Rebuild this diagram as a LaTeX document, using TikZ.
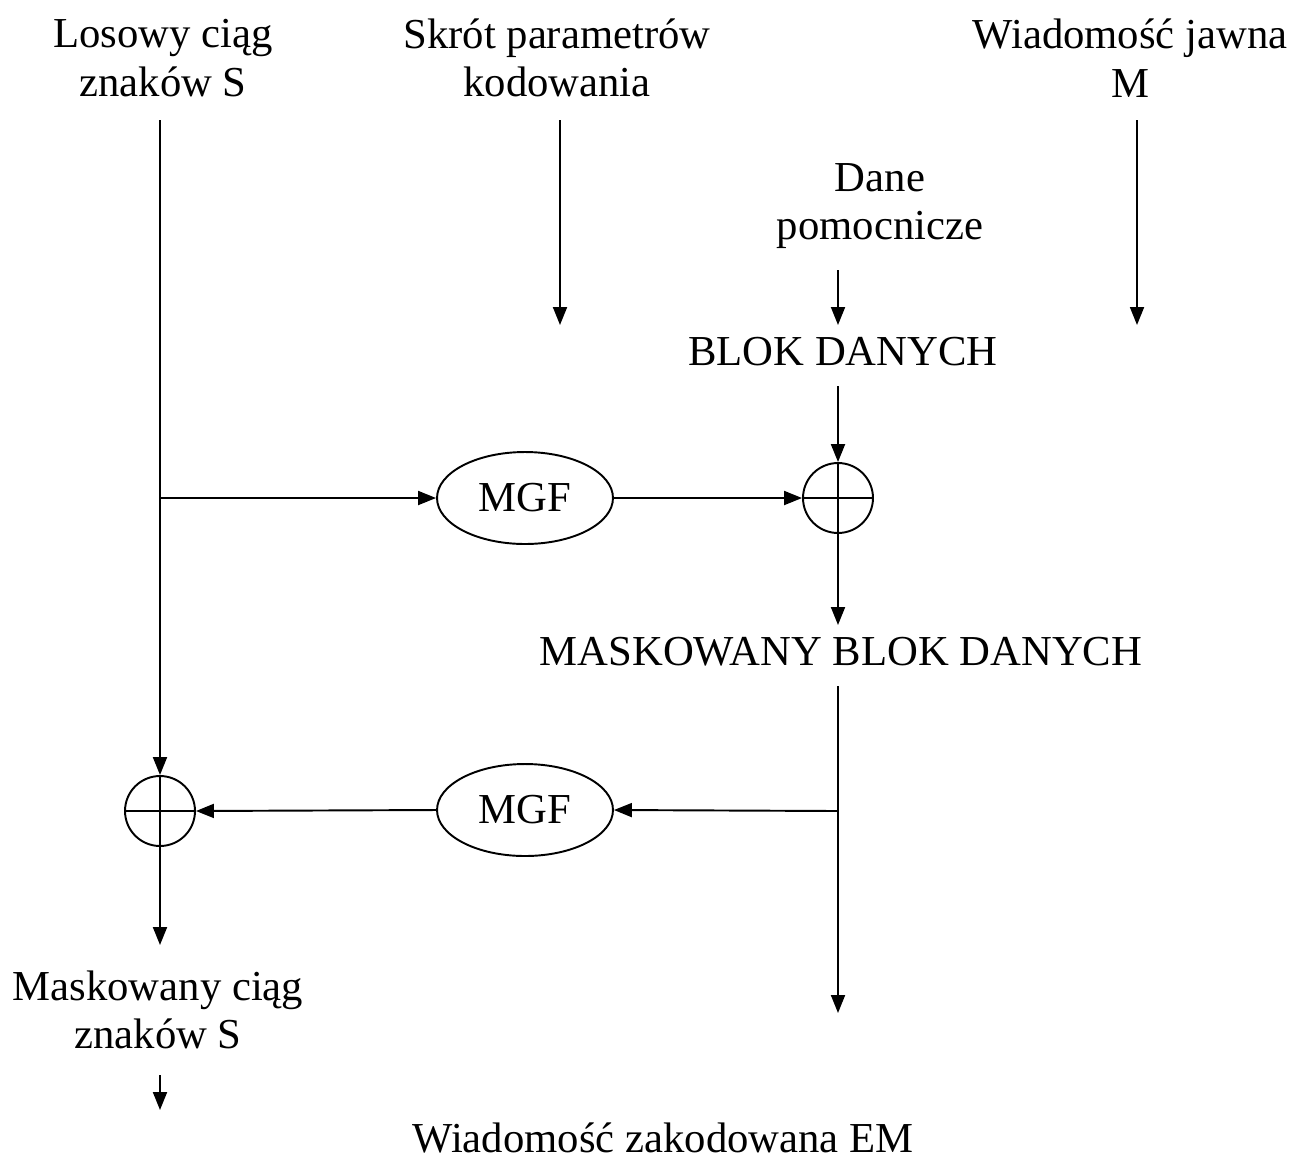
\documentclass[tikz,border=0pt]{standalone}
\usepackage{fontspec}
\setmainfont{Liberation Serif}
\usetikzlibrary{arrows.meta,shapes.geometric}
\begin{document}
\begin{tikzpicture}[x=0.02cm,y=-0.02cm,
  every node/.style={font=\fontsize{24.3}{27.6}\selectfont},
  lbl/.style={align=center,inner sep=0pt},
  ln/.style={line width=1.1pt},
  arr/.style={ln,-{Triangle[length=0.36cm,width=0.28cm]}},
  xorc/.style={circle,draw,line width=1.1pt,minimum size=1.4cm,inner sep=0pt,
    path picture={\draw[line width=1.1pt] (path picture bounding box.north)--(path picture bounding box.south)
      (path picture bounding box.west)--(path picture bounding box.east);}},
  mgf/.style={ellipse,draw,line width=1.1pt,minimum width=3.52cm,minimum height=1.84cm,inner sep=0pt}]
\useasboundingbox (0,0) rectangle (1293,1160);
% text nodes
\node[lbl] (los) at (163,58) {Losowy ciąg\\znaków S};
\node[lbl] (skr) at (557,58) {Skrót parametrów\\kodowania};
\node[lbl] (wjm) at (1130,58) {Wiadomość jawna\\M};
\node[lbl] (dane) at (880,206) {Dane\\pomocnicze};
\node[lbl] (blok) at (843,352) {BLOK DANYCH};
\node[lbl] (mblok) at (841,652) {MASKOWANY BLOK DANYCH};
\node[lbl] (mcs) at (158,1010) {Maskowany ciąg\\znaków S};
\node[lbl] (wem) at (663,1138) {Wiadomość zakodowana EM};
% operators
\node[mgf] (mgf1) at (525,498) {MGF};
\node[mgf] (mgf2) at (525,810) {MGF};
\node[xorc] (x1) at (838,498) {};
\node[xorc] (x2) at (160,811) {};
% coordinates
\coordinate (s1) at (160,120);
\coordinate (b1) at (160,498);
\coordinate (s2) at (560,120);
\coordinate (e2) at (560,325);
\coordinate (s3) at (1137,120);
\coordinate (e3) at (1137,325);
\coordinate (s4) at (838,270);
\coordinate (e4) at (838,325);
\coordinate (s5) at (838,386);
\coordinate (e6) at (838,625);
\coordinate (s7) at (838,686);
\coordinate (b7) at (838,811);
\coordinate (e7) at (838,1013);
\coordinate (e8) at (160,945);
\coordinate (s9) at (160,1075);
\coordinate (e9) at (160,1110);
% connectors
\draw[arr] (s1) -- (x2.north);
\draw[arr] (b1) -- (mgf1.west);
\draw[arr] (mgf1.east) -- (x1.west);
\draw[arr] (s2) -- (e2);
\draw[arr] (s3) -- (e3);
\draw[arr] (s4) -- (e4);
\draw[arr] (s5) -- (x1.north);
\draw[arr] (x1.south) -- (e6);
\draw[arr] (s7) -- (e7);
\draw[arr] (b7) -- (mgf2.east);
\draw[arr] (mgf2.west) -- (x2.east);
\draw[arr] (x2.south) -- (e8);
\draw[arr] (s9) -- (e9);
\end{tikzpicture}
\end{document}
